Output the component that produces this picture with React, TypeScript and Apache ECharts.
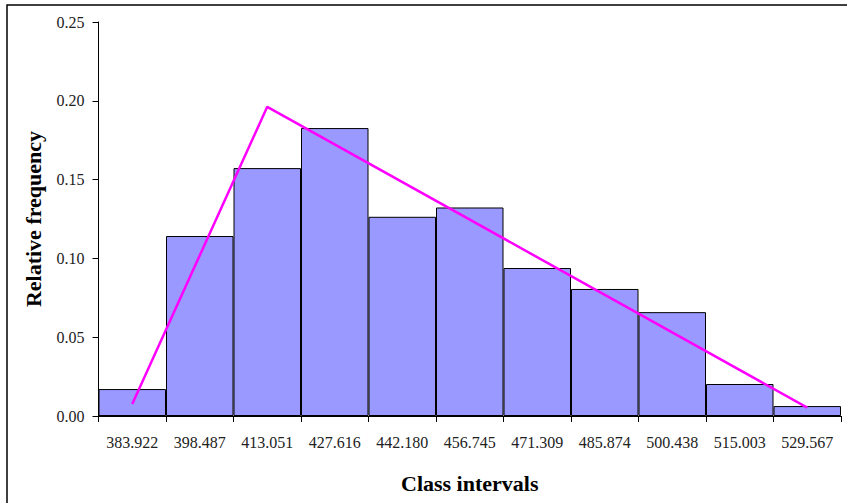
import React, { useEffect, useRef } from "react";
import * as echarts from "echarts";

const categories = ["383.922", "398.487", "413.051", "427.616", "442.180", "456.745", "471.309", "485.874", "500.438", "515.003", "529.567"];
const relFreq = [0.0171, 0.1142, 0.1573, 0.1827, 0.1264, 0.1323, 0.0939, 0.0806, 0.0659, 0.0203, 0.0063];
const lineCats = ["383.922", "413.051", "529.567"];
const lineValues = [0.0076, 0.1962, 0.0053];

export default function App() {
  const ref = useRef<HTMLDivElement>(null);
  useEffect(() => {
    if (!ref.current) return;
    const chart = echarts.init(ref.current, null, { renderer: "svg" });
    const font = "'Liberation Serif', 'Times New Roman', serif";
    chart.setOption({
      animation: false,
      backgroundColor: "#ffffff",
      graphic: [
        {
          type: "rect",
          shape: { x: 7, y: 5, width: 860, height: 520 },
          style: { fill: "none", stroke: "#000", lineWidth: 1.5 },
          silent: true,
        },
      ],
      grid: { left: 98.5, right: 6, top: 22, bottom: 87, containLabel: false },
      xAxis: {
        type: "category",
        data: categories,
        boundaryGap: true,
        name: "Class intervals",
        nameLocation: "middle",
        nameGap: 56,
        nameTextStyle: { fontFamily: font, fontSize: 22, fontWeight: "bold", color: "#000" },
        axisLine: { show: true, lineStyle: { color: "#000", width: 1 } },
        axisTick: { show: true, alignWithLabel: false, length: 6, lineStyle: { color: "#000" } },
        axisLabel: { fontFamily: font, fontSize: 16, color: "#222", margin: 18, interval: 0 },
        splitLine: { show: false },
      },
      yAxis: {
        type: "value",
        min: 0,
        max: 0.25,
        interval: 0.05,
        name: "Relative frequency",
        nameLocation: "middle",
        nameRotate: 90,
        nameGap: 54,
        nameTextStyle: { fontFamily: font, fontSize: 22, fontWeight: "bold", color: "#000" },
        axisLine: { show: true, lineStyle: { color: "#000", width: 1 } },
        axisTick: { show: true, length: 6, lineStyle: { color: "#000" } },
        axisLabel: {
          fontFamily: font,
          fontSize: 16,
          color: "#222",
          margin: 14,
          formatter: (v: number) => v.toFixed(2),
        },
        splitLine: { show: false },
      },
      series: [
        {
          type: "bar",
          data: relFreq,
          barCategoryGap: "0%",
          itemStyle: { color: "#9999ff", borderColor: "#000", borderWidth: 1 },
          silent: true,
        },
        {
          type: "line",
          data: lineCats.map((c, i) => [c, lineValues[i]]),
          showSymbol: false,
          symbol: "none",
          lineStyle: { color: "#ff00ff", width: 2.5 },
          silent: true,
          z: 5,
        },
      ],
    });
    return () => chart.dispose();
  }, []);
  return (
    <div
      ref={ref}
      style={{ position: "absolute", left: 0, top: 0, width: 847, height: 503 }}
    />
  );
}
